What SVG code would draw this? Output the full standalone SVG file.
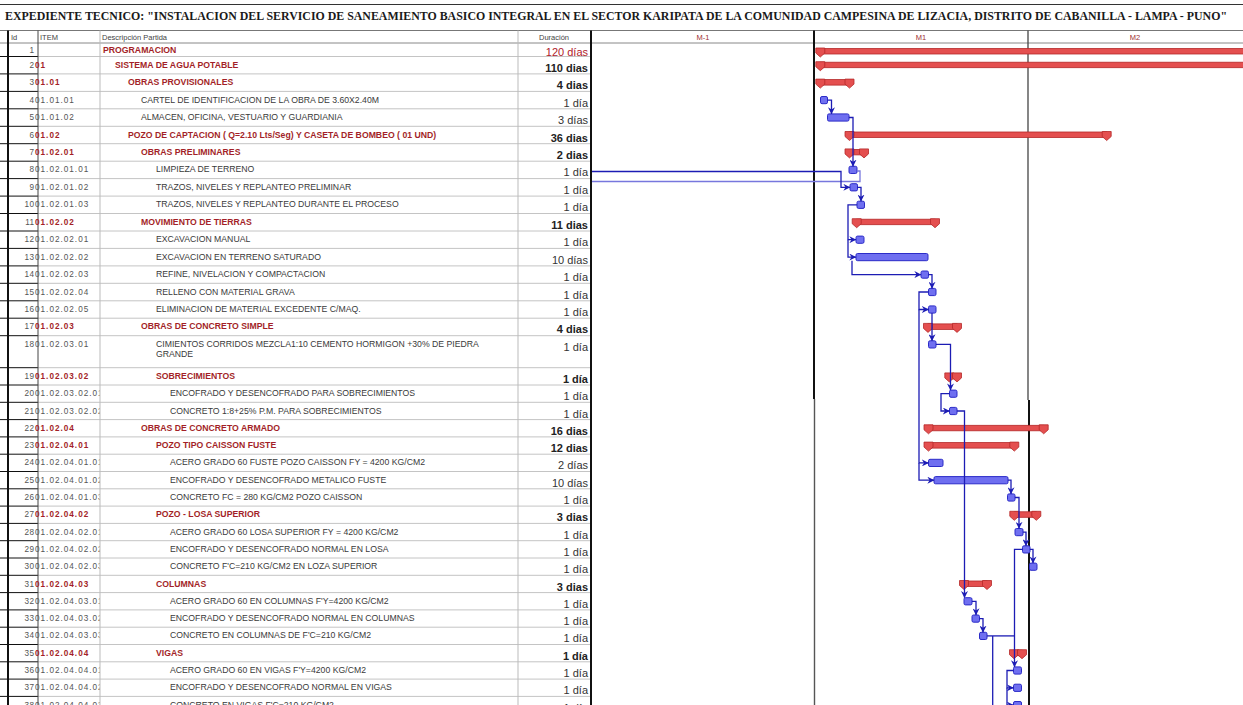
<svg xmlns="http://www.w3.org/2000/svg" xmlns:xlink="http://www.w3.org/1999/xlink" width="1243" height="705" viewBox="0 0 1243 705">
<style>
text{font-family:"Liberation Sans",Arial,sans-serif}
.ttl{font-family:"Liberation Serif","Times New Roman",serif;font-weight:bold;font-size:13.5px;fill:#1a1a1a}
.hd{font-size:7.5px;fill:#444}
.mh{font-size:7.5px;fill:#a03030;text-anchor:middle}
.id{font-size:8.2px;fill:#555;text-anchor:end;letter-spacing:0.4px}
.it{font-size:8.2px;fill:#555;letter-spacing:1px}
.its{font-size:8.2px;fill:#a31f28;font-weight:bold;letter-spacing:1px}
.t{font-size:8.7px;fill:#3a3a3a}
.s{font-size:8.7px;fill:#a31f28;font-weight:bold}
.d{font-size:11px;fill:#333;text-anchor:end}
.ds{font-size:11px;fill:#222;text-anchor:end;font-weight:bold}
.sb{fill:#e44f4f;stroke:#b52828;stroke-width:0.8}
.tb{fill:#6f6ff0;stroke:#2c2cc8;stroke-width:1}
.cn{fill:none;stroke:#1c1cb4;stroke-width:1.3}
.cl{fill:none;stroke:#7777dd;stroke-width:1.3}
.grid{fill:none;stroke:#c4c4c4;stroke-width:1}
.blk{fill:none;stroke:#111;stroke-width:1}
</style>
<defs>
<marker id="ar" viewBox="0 0 8 8" refX="7.6" refY="4" markerWidth="7" markerHeight="7" markerUnits="userSpaceOnUse" orient="auto"><path d="M0,0 L8,4 L0,8 L2.5,4 z" fill="#1c1cb4"/></marker>
<path id="sh" d="M-4.5,-3.5 H4.5 V1.5 L0,5.5 L-4.5,1.5 Z"/>
<clipPath id="itc"><rect x="30" y="40" width="69.5" height="680"/></clipPath>
</defs>
<rect width="1243" height="705" fill="#fff"/>

<g id="frame">
<line x1="0" y1="4.5" x2="1243" y2="4.5" stroke="#333" stroke-width="1.2"/>
<line x1="0" y1="30.5" x2="1243" y2="30.5" stroke="#777" stroke-width="1"/>
<line x1="0" y1="43" x2="1243" y2="43" stroke="#888" stroke-width="1"/>
<path class="grid" d="M38,56.5H591M38,73.9H591M38,91.4H591M38,108.8H591M38,126.3H591M38,143.7H591M38,161.2H591M38,178.6H591M38,196.1H591M38,213.5H591M38,231H591M38,248.4H591M38,265.9H591M38,283.3H591M38,300.8H591M38,318.2H591M38,335.7H591M38,367.7H591M38,385H591M38,402.3H591M38,419.6H591M38,436.9H591M38,454.2H591M38,471.5H591M38,488.8H591M38,506.1H591M38,523.4H591M38,540.7H591M38,558H591M38,575.3H591M38,592.6H591M38,609.9H591M38,627.2H591M38,644.5H591M38,661.8H591M38,679.1H591M38,696.4H591"/>
<path class="blk" d="M0,56.5H38M0,73.9H38M0,91.4H38M0,108.8H38M0,126.3H38M0,143.7H38M0,161.2H38M0,178.6H38M0,196.1H38M0,213.5H38M0,231H38M0,248.4H38M0,265.9H38M0,283.3H38M0,300.8H38M0,318.2H38M0,335.7H38M0,367.7H38M0,385H38M0,402.3H38M0,419.6H38M0,436.9H38M0,454.2H38M0,471.5H38M0,488.8H38M0,506.1H38M0,523.4H38M0,540.7H38M0,558H38M0,575.3H38M0,592.6H38M0,609.9H38M0,627.2H38M0,644.5H38M0,661.8H38M0,679.1H38M0,696.4H38"/>
<line x1="8" y1="30.5" x2="8" y2="705" stroke="#111" stroke-width="2"/>
<line x1="38" y1="30.5" x2="38" y2="705" stroke="#444" stroke-width="1"/>
<line x1="100" y1="30.5" x2="100" y2="705" stroke="#bbb" stroke-width="1"/>
<line x1="518" y1="30.5" x2="518" y2="705" stroke="#bbb" stroke-width="1"/>
<line x1="591" y1="30.5" x2="591" y2="705" stroke="#111" stroke-width="2"/>
<line x1="814" y1="30.5" x2="814" y2="399" stroke="#111" stroke-width="2"/>
<line x1="814.5" y1="399" x2="814.5" y2="705" stroke="#555" stroke-width="1.4"/>
<line x1="1028" y1="30.5" x2="1028" y2="400" stroke="#444" stroke-width="1.3"/>
<line x1="1029" y1="400" x2="1029" y2="705" stroke="#111" stroke-width="2"/>
</g>

<g id="title">
<text class="ttl" x="5" y="20" textLength="1222" lengthAdjust="spacingAndGlyphs">EXPEDIENTE TECNICO: "INSTALACION DEL SERVICIO DE SANEAMIENTO BASICO INTEGRAL EN EL SECTOR KARIPATA DE LA COMUNIDAD CAMPESINA DE LIZACIA, DISTRITO DE CABANILLA - LAMPA - PUNO"</text>
</g>

<g id="header">
<text class="hd" x="11" y="39.5">Id</text>
<text class="hd" x="40" y="39.5">ITEM</text>
<text class="hd" x="102" y="39.5">Descripción Partida</text>
<text class="hd" x="554" y="39.5" text-anchor="middle">Duración</text>
<text class="mh" x="703" y="39.5">M-1</text>
<text class="mh" x="921" y="39.5">M1</text>
<text class="mh" x="1135" y="39.5">M2</text>
</g>

<g id="tasks">
<g id="task-1"><text class="id" x="34.5" y="52.5">1</text><text class="s" x="103" y="52.5">PROGRAMACION</text><text class="d" x="588" y="55.5" style="fill:#b0202a">120 días</text>
<rect class="sb" x="820" y="48.5" width="430" height="5.5"/><use href="#sh" class="sb" x="820.3" y="51.5"/></g>
<g id="task-2"><text class="id" x="34.5" y="67.7">2</text><text class="its" x="35" y="67.7" clip-path="url(#itc)">01</text><text class="s" x="115" y="67.7">SISTEMA DE AGUA POTABLE</text><text class="ds" x="588" y="71.7">110 dias</text>
<rect class="sb" x="820" y="62.2" width="430" height="5.5"/><use href="#sh" class="sb" x="820.3" y="65.2"/></g>
<g id="task-3"><text class="id" x="34.5" y="85.1">3</text><text class="its" x="35" y="85.1">01.01</text><text class="s" x="128" y="85.1">OBRAS PROVISIONALES</text><text class="ds" x="588" y="89.1">4 dias</text>
<rect class="sb" x="820" y="79.6" width="29.5" height="5.5"/><use href="#sh" class="sb" x="820.3" y="82.6"/><use href="#sh" class="sb" x="849.5" y="82.6"/></g>
<g id="task-4"><text class="id" x="34.5" y="102.6">4</text><text class="it" x="35" y="102.6">01.01.01</text><text class="t" x="141" y="102.6">CARTEL DE IDENTIFICACION DE LA OBRA DE 3.60X2.40M</text><text class="d" x="588" y="106.6">1 día</text>
<rect class="tb" x="820.5" y="96.5" width="7" height="7.2" rx="1.5"/></g>
<g id="task-5"><text class="id" x="34.5" y="120">5</text><text class="it" x="35" y="120">01.01.02</text><text class="t" x="141" y="120">ALMACEN, OFICINA, VESTUARIO Y GUARDIANIA</text><text class="d" x="588" y="124">3 días</text>
<rect class="tb" x="827.5" y="113.9" width="21.5" height="7.2" rx="1.5"/></g>
<g id="task-6"><text class="id" x="34.5" y="137.5">6</text><text class="its" x="35" y="137.5">01.02</text><text class="s" x="128" y="137.5">POZO DE CAPTACION ( Q=2.10 Lts/Seg) Y CASETA DE BOMBEO ( 01 UND)</text><text class="ds" x="588" y="141.5">36 dias</text>
<rect class="sb" x="849.5" y="132" width="257.2" height="5.5"/><use href="#sh" class="sb" x="849.5" y="135"/><use href="#sh" class="sb" x="1106.7" y="135"/></g>
<g id="task-7"><text class="id" x="34.5" y="154.9">7</text><text class="its" x="35" y="154.9">01.02.01</text><text class="s" x="141" y="154.9">OBRAS PRELIMINARES</text><text class="ds" x="588" y="158.9">2 dias</text>
<rect class="sb" x="849.5" y="149.4" width="14.5" height="5.5"/><use href="#sh" class="sb" x="849.5" y="152.4"/><use href="#sh" class="sb" x="864" y="152.4"/></g>
<g id="task-8"><text class="id" x="34.5" y="172.4">8</text><text class="it" x="35" y="172.4" clip-path="url(#itc)">01.02.01.01</text><text class="t" x="156" y="172.4">LIMPIEZA DE TERRENO</text><text class="d" x="588" y="176.4">1 día</text>
<rect class="tb" x="849" y="166.3" width="8" height="7.2" rx="1.5"/></g>
<g id="task-9"><text class="id" x="34.5" y="189.8">9</text><text class="it" x="35" y="189.8" clip-path="url(#itc)">01.02.01.02</text><text class="t" x="156" y="189.8">TRAZOS, NIVELES Y REPLANTEO PRELIMINAR</text><text class="d" x="588" y="193.8">1 día</text>
<rect class="tb" x="850" y="183.7" width="7.5" height="7.2" rx="1.5"/></g>
<g id="task-10"><text class="id" x="34.5" y="207.3">10</text><text class="it" x="35" y="207.3" clip-path="url(#itc)">01.02.01.03</text><text class="t" x="156" y="207.3">TRAZOS, NIVELES Y REPLANTEO DURANTE EL PROCESO</text><text class="d" x="588" y="211.3">1 día</text>
<rect class="tb" x="857" y="201.2" width="7.5" height="7.2" rx="1.5"/></g>
<g id="task-11"><text class="id" x="34.5" y="224.7">11</text><text class="its" x="35" y="224.7">01.02.02</text><text class="s" x="141" y="224.7">MOVIMIENTO DE TIERRAS</text><text class="ds" x="588" y="228.7">11 dias</text>
<rect class="sb" x="856.7" y="219.2" width="78.3" height="5.5"/><use href="#sh" class="sb" x="856.7" y="222.2"/><use href="#sh" class="sb" x="935" y="222.2"/></g>
<g id="task-12"><text class="id" x="34.5" y="242.2">12</text><text class="it" x="35" y="242.2" clip-path="url(#itc)">01.02.02.01</text><text class="t" x="156" y="242.2">EXCAVACION MANUAL</text><text class="d" x="588" y="246.2">1 día</text>
<rect class="tb" x="856" y="236.1" width="8" height="7.2" rx="1.5"/></g>
<g id="task-13"><text class="id" x="34.5" y="259.6">13</text><text class="it" x="35" y="259.6" clip-path="url(#itc)">01.02.02.02</text><text class="t" x="156" y="259.6">EXCAVACION EN TERRENO SATURADO</text><text class="d" x="588" y="263.6">10 días</text>
<rect class="tb" x="856" y="253.5" width="72" height="7.2" rx="1.5"/></g>
<g id="task-14"><text class="id" x="34.5" y="277.1">14</text><text class="it" x="35" y="277.1" clip-path="url(#itc)">01.02.02.03</text><text class="t" x="156" y="277.1">REFINE, NIVELACION Y COMPACTACION</text><text class="d" x="588" y="281.1">1 día</text>
<rect class="tb" x="921" y="271" width="7.5" height="7.2" rx="1.5"/></g>
<g id="task-15"><text class="id" x="34.5" y="294.5">15</text><text class="it" x="35" y="294.5" clip-path="url(#itc)">01.02.02.04</text><text class="t" x="156" y="294.5">RELLENO CON MATERIAL GRAVA</text><text class="d" x="588" y="298.5">1 día</text>
<rect class="tb" x="928.5" y="288.4" width="7.5" height="7.2" rx="1.5"/></g>
<g id="task-16"><text class="id" x="34.5" y="312">16</text><text class="it" x="35" y="312" clip-path="url(#itc)">01.02.02.05</text><text class="t" x="156" y="312">ELIMINACION DE MATERIAL EXCEDENTE C/MAQ.</text><text class="d" x="588" y="316">1 día</text>
<rect class="tb" x="928.5" y="305.9" width="7.5" height="7.2" rx="1.5"/></g>
<g id="task-17"><text class="id" x="34.5" y="329.4">17</text><text class="its" x="35" y="329.4">01.02.03</text><text class="s" x="141" y="329.4">OBRAS DE CONCRETO SIMPLE</text><text class="ds" x="588" y="333.4">4 dias</text>
<rect class="sb" x="928" y="323.9" width="29" height="5.5"/><use href="#sh" class="sb" x="928" y="326.9"/><use href="#sh" class="sb" x="957" y="326.9"/></g>
<g id="task-18"><text class="id" x="34.5" y="346.9">18</text><text class="it" x="35" y="346.9" clip-path="url(#itc)">01.02.03.01</text><text class="t" x="156" y="346.9">CIMIENTOS CORRIDOS MEZCLA1:10 CEMENTO HORMIGON +30% DE PIEDRA</text><text class="t" x="156" y="356.6">GRANDE</text><text class="d" x="588" y="350.9">1 día</text>
<rect class="tb" x="928.5" y="340.8" width="7.5" height="7.2" rx="1.5"/></g>
<g id="task-19"><text class="id" x="34.5" y="378.9">19</text><text class="its" x="35" y="378.9" clip-path="url(#itc)">01.02.03.02</text><text class="s" x="156" y="378.9">SOBRECIMIENTOS</text><text class="ds" x="588" y="382.9">1 día</text>
<rect class="sb" x="949.3" y="373.4" width="7.7" height="5.5"/><use href="#sh" class="sb" x="949.3" y="376.4"/><use href="#sh" class="sb" x="957" y="376.4"/></g>
<g id="task-20"><text class="id" x="34.5" y="396.2">20</text><text class="it" x="35" y="396.2" clip-path="url(#itc)">01.02.03.02.01</text><text class="t" x="170" y="396.2">ENCOFRADO Y DESENCOFRADO PARA SOBRECIMIENTOS</text><text class="d" x="588" y="400.2">1 día</text>
<rect class="tb" x="949.5" y="390.1" width="7.5" height="7.2" rx="1.5"/></g>
<g id="task-21"><text class="id" x="34.5" y="413.5">21</text><text class="it" x="35" y="413.5" clip-path="url(#itc)">01.02.03.02.02</text><text class="t" x="170" y="413.5">CONCRETO 1:8+25% P.M. PARA SOBRECIMIENTOS</text><text class="d" x="588" y="417.5">1 día</text>
<rect class="tb" x="949.5" y="407.4" width="7.5" height="7.2" rx="1.5"/></g>
<g id="task-22"><text class="id" x="34.5" y="430.8">22</text><text class="its" x="35" y="430.8">01.02.04</text><text class="s" x="141" y="430.8">OBRAS DE CONCRETO ARMADO</text><text class="ds" x="588" y="434.8">16 dias</text>
<rect class="sb" x="928.5" y="425.3" width="115.2" height="5.5"/><use href="#sh" class="sb" x="928.5" y="428.3"/><use href="#sh" class="sb" x="1043.7" y="428.3"/></g>
<g id="task-23"><text class="id" x="34.5" y="448.1">23</text><text class="its" x="35" y="448.1" clip-path="url(#itc)">01.02.04.01</text><text class="s" x="156" y="448.1">POZO TIPO CAISSON FUSTE</text><text class="ds" x="588" y="452.1">12 dias</text>
<rect class="sb" x="928.5" y="442.6" width="85.8" height="5.5"/><use href="#sh" class="sb" x="928.5" y="445.6"/><use href="#sh" class="sb" x="1014.3" y="445.6"/></g>
<g id="task-24"><text class="id" x="34.5" y="465.4">24</text><text class="it" x="35" y="465.4" clip-path="url(#itc)">01.02.04.01.01</text><text class="t" x="170" y="465.4">ACERO GRADO 60 FUSTE POZO CAISSON  FY = 4200 KG/CM2</text><text class="d" x="588" y="469.4">2 días</text>
<rect class="tb" x="928.5" y="459.3" width="14.5" height="7.2" rx="1.5"/></g>
<g id="task-25"><text class="id" x="34.5" y="482.7">25</text><text class="it" x="35" y="482.7" clip-path="url(#itc)">01.02.04.01.02</text><text class="t" x="170" y="482.7">ENCOFRADO Y DESENCOFRADO METALICO FUSTE</text><text class="d" x="588" y="486.7">10 días</text>
<rect class="tb" x="934" y="476.6" width="74" height="7.2" rx="1.5"/></g>
<g id="task-26"><text class="id" x="34.5" y="500">26</text><text class="it" x="35" y="500" clip-path="url(#itc)">01.02.04.01.03</text><text class="t" x="170" y="500">CONCRETO FC = 280 KG/CM2 POZO CAISSON</text><text class="d" x="588" y="504">1 día</text>
<rect class="tb" x="1007.5" y="493.9" width="7.5" height="7.2" rx="1.5"/></g>
<g id="task-27"><text class="id" x="34.5" y="517.3">27</text><text class="its" x="35" y="517.3" clip-path="url(#itc)">01.02.04.02</text><text class="s" x="156" y="517.3">POZO - LOSA SUPERIOR</text><text class="ds" x="588" y="521.3">3 dias</text>
<rect class="sb" x="1014.3" y="511.8" width="22" height="5.5"/><use href="#sh" class="sb" x="1014.3" y="514.8"/><use href="#sh" class="sb" x="1036.3" y="514.8"/></g>
<g id="task-28"><text class="id" x="34.5" y="534.6">28</text><text class="it" x="35" y="534.6" clip-path="url(#itc)">01.02.04.02.01</text><text class="t" x="170" y="534.6">ACERO GRADO 60 LOSA SUPERIOR FY = 4200 KG/CM2</text><text class="d" x="588" y="538.6">1 día</text>
<rect class="tb" x="1015" y="528.5" width="8" height="7.2" rx="1.5"/></g>
<g id="task-29"><text class="id" x="34.5" y="551.9">29</text><text class="it" x="35" y="551.9" clip-path="url(#itc)">01.02.04.02.02</text><text class="t" x="170" y="551.9">ENCOFRADO Y DESENCOFRADO  NORMAL  EN LOSA</text><text class="d" x="588" y="555.9">1 día</text>
<rect class="tb" x="1022.5" y="545.8" width="7.5" height="7.2" rx="1.5"/></g>
<g id="task-30"><text class="id" x="34.5" y="569.2">30</text><text class="it" x="35" y="569.2" clip-path="url(#itc)">01.02.04.02.03</text><text class="t" x="170" y="569.2">CONCRETO  F'C=210 KG/CM2 EN  LOZA SUPERIOR</text><text class="d" x="588" y="573.2">1 día</text>
<rect class="tb" x="1029.5" y="563.1" width="7.5" height="7.2" rx="1.5"/></g>
<g id="task-31"><text class="id" x="34.5" y="586.5">31</text><text class="its" x="35" y="586.5" clip-path="url(#itc)">01.02.04.03</text><text class="s" x="156" y="586.5">COLUMNAS</text><text class="ds" x="588" y="590.5">3 dias</text>
<rect class="sb" x="964" y="581" width="23" height="5.5"/><use href="#sh" class="sb" x="964" y="584"/><use href="#sh" class="sb" x="987" y="584"/></g>
<g id="task-32"><text class="id" x="34.5" y="603.8">32</text><text class="it" x="35" y="603.8" clip-path="url(#itc)">01.02.04.03.01</text><text class="t" x="170" y="603.8">ACERO GRADO 60 EN COLUMNAS F'Y=4200 KG/CM2</text><text class="d" x="588" y="607.8">1 día</text>
<rect class="tb" x="964" y="597.7" width="8" height="7.2" rx="1.5"/></g>
<g id="task-33"><text class="id" x="34.5" y="621.1">33</text><text class="it" x="35" y="621.1" clip-path="url(#itc)">01.02.04.03.02</text><text class="t" x="170" y="621.1">ENCOFRADO Y DESENCOFRADO NORMAL EN COLUMNAS</text><text class="d" x="588" y="625.1">1 día</text>
<rect class="tb" x="972" y="615" width="7.5" height="7.2" rx="1.5"/></g>
<g id="task-34"><text class="id" x="34.5" y="638.4">34</text><text class="it" x="35" y="638.4" clip-path="url(#itc)">01.02.04.03.03</text><text class="t" x="170" y="638.4">CONCRETO EN COLUMNAS DE F'C=210 KG/CM2</text><text class="d" x="588" y="642.4">1 día</text>
<rect class="tb" x="979.5" y="632.3" width="7.5" height="7.2" rx="1.5"/></g>
<g id="task-35"><text class="id" x="34.5" y="655.7">35</text><text class="its" x="35" y="655.7" clip-path="url(#itc)">01.02.04.04</text><text class="s" x="156" y="655.7">VIGAS</text><text class="ds" x="588" y="659.7">1 día</text>
<rect class="sb" x="1014" y="650.2" width="8" height="5.5"/><use href="#sh" class="sb" x="1014" y="653.2"/><use href="#sh" class="sb" x="1022" y="653.2"/></g>
<g id="task-36"><text class="id" x="34.5" y="673">36</text><text class="it" x="35" y="673" clip-path="url(#itc)">01.02.04.04.01</text><text class="t" x="170" y="673">ACERO GRADO 60 EN VIGAS F'Y=4200 KG/CM2</text><text class="d" x="588" y="677">1 día</text>
<rect class="tb" x="1013.5" y="666.9" width="8" height="7.2" rx="1.5"/></g>
<g id="task-37"><text class="id" x="34.5" y="690.3">37</text><text class="it" x="35" y="690.3" clip-path="url(#itc)">01.02.04.04.02</text><text class="t" x="170" y="690.3">ENCOFRADO Y DESENCOFRADO NORMAL EN VIGAS</text><text class="d" x="588" y="694.3">1 día</text>
<rect class="tb" x="1013.5" y="684.2" width="8" height="7.2" rx="1.5"/></g>
<g id="task-38"><text class="id" x="34.5" y="707.6">38</text><text class="it" x="35" y="707.6" clip-path="url(#itc)">01.02.04.04.03</text><text class="t" x="170" y="707.6">CONCRETO EN VIGAS F'C=210 KG/CM2</text><text class="d" x="588" y="711.6">1 día</text>
<rect class="tb" x="1013.5" y="701.5" width="8" height="7.2" rx="1.5"/></g>
</g>

<g id="connectors">
<path class="cl" d="M857,171 H860 V181.5 H592"/>
<path class="cn" d="M592,171.5 H841 V187.3 H850" marker-end="url(#ar)"/>
<path class="cn" d="M827.5,100.1 H831.5 V113.9" marker-end="url(#ar)"/>
<path class="cn" d="M849,117.5 H853 V166.3" marker-end="url(#ar)"/>
<path class="cn" d="M857.5,187.3 H861 V201.2" marker-end="url(#ar)"/>
<path class="cn" d="M857,204.8 H848 V239.7 H856" marker-end="url(#ar)"/>
<path class="cn" d="M848,239.7 V257.1 H856" marker-end="url(#ar)"/>
<path class="cn" d="M852,260.7 V274.6 H921" marker-end="url(#ar)"/>
<path class="cn" d="M928.5,274.6 H932 V288.4" marker-end="url(#ar)"/>
<path class="cn" d="M928.5,292 H919 V309.5 H928.5" marker-end="url(#ar)"/>
<path class="cn" d="M919,309.5 V462.9 H928.5" marker-end="url(#ar)"/>
<path class="cn" d="M919,462.9 V480.2 H934" marker-end="url(#ar)"/>
<path class="cn" d="M932,313.1 V340.8" marker-end="url(#ar)"/>
<path class="cn" d="M936,344.4 H950.5 V390.1" marker-end="url(#ar)"/>
<path class="cn" d="M949.5,393.7 H941 V411 H949.5" marker-end="url(#ar)"/>
<path class="cn" d="M957,411 H964.5 V597.7" marker-end="url(#ar)"/>
<path class="cn" d="M1008,480.2 H1011 V493.9" marker-end="url(#ar)"/>
<path class="cn" d="M1015,497.5 H1019 V528.5" marker-end="url(#ar)"/>
<path class="cn" d="M1023,532.1 H1026 V545.8" marker-end="url(#ar)"/>
<path class="cn" d="M1030,549.4 H1033 V563.1" marker-end="url(#ar)"/>
<path class="cn" d="M1022.5,549.4 H1014.5 V666.9" marker-end="url(#ar)"/>
<path class="cn" d="M1013.5,670.5 H1007 V687.8 H1013.5" marker-end="url(#ar)"/>
<path class="cn" d="M1007,687.8 V705.1 H1013.5" marker-end="url(#ar)"/>
<path class="cn" d="M987,635.9 H1014.5"/>
<path class="cn" d="M992.7,635.9 V706"/>
<path class="cn" d="M972,601.3 H976 V615" marker-end="url(#ar)"/>
<path class="cn" d="M979.5,618.6 H983 V632.3" marker-end="url(#ar)"/>
</g>
</svg>
